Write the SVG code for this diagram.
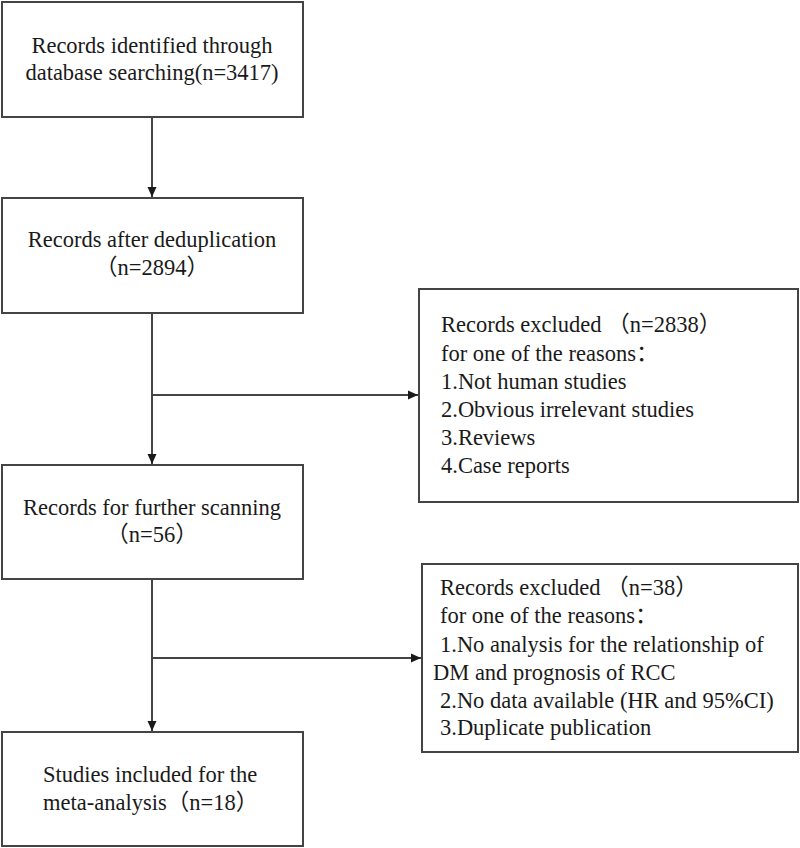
<svg xmlns="http://www.w3.org/2000/svg" width="800" height="848" viewBox="0 0 800 848">
<style>
.box{fill:#fff;stroke:#444;stroke-width:2}
.t{font-family:"Liberation Serif","Noto Sans CJK SC",serif;font-size:22.5px;fill:#1a1a1a}
.c{text-anchor:middle}
.ln{stroke:#444;stroke-width:2;fill:none}
</style>
<defs>
<marker id="ah" viewBox="0 0 10 10" refX="10" refY="5" markerWidth="10" markerHeight="10" markerUnits="userSpaceOnUse" orient="auto">
<path d="M0,0.5 L10,5 L0,9.5 Z" fill="#1a1a1a"/>
</marker>
</defs>
<rect width="800" height="848" fill="#fff"/>
<g id="connectors">
<line class="ln" x1="152" y1="117" x2="152" y2="197" marker-end="url(#ah)"/>
<line class="ln" x1="152" y1="313" x2="152" y2="464" marker-end="url(#ah)"/>
<line class="ln" x1="152" y1="395" x2="418" y2="395" marker-end="url(#ah)"/>
<line class="ln" x1="152" y1="579" x2="152" y2="731" marker-end="url(#ah)"/>
<line class="ln" x1="152" y1="658" x2="421" y2="658" marker-end="url(#ah)"/>
</g>
<g id="n1">
<rect class="box" x="2" y="2" width="301" height="115"/>
<text class="t c" x="152" y="53">Records identified through</text>
<text class="t c" x="152" y="80">database searching(n=3417)</text>
</g>
<g id="n2">
<rect class="box" x="2" y="198" width="301" height="115"/>
<text class="t c" x="152" y="247">Records after deduplication</text>
<text class="t c" x="152" y="275">（n=2894）</text>
</g>
<g id="n3">
<rect class="box" x="419" y="289" width="379" height="213"/>
<text class="t" x="441" y="332">Records excluded （n=2838）</text>
<text class="t" x="441" y="361">for one of the reasons：</text>
<text class="t" x="441" y="389">1.Not human studies</text>
<text class="t" x="441" y="417">2.Obvious irrelevant studies</text>
<text class="t" x="441" y="445">3.Reviews</text>
<text class="t" x="441" y="473">4.Case reports</text>
</g>
<g id="n4">
<rect class="box" x="2" y="465" width="301" height="114"/>
<text class="t c" x="152" y="515">Records for further scanning</text>
<text class="t c" x="152" y="542">（n=56）</text>
</g>
<g id="n5">
<rect class="box" x="422" y="564" width="376" height="188"/>
<text class="t" x="440" y="595">Records excluded （n=38）</text>
<text class="t" x="440" y="623">for one of the reasons：</text>
<text class="t" x="440" y="652">1.No analysis for the relationship of</text>
<text class="t" x="433" y="680">DM and prognosis of RCC</text>
<text class="t" x="440" y="708">2.No data available (HR and 95%CI)</text>
<text class="t" x="440" y="735">3.Duplicate publication</text>
</g>
<g id="n6">
<rect class="box" x="2" y="732" width="301" height="114"/>
<text class="t" x="43" y="782">Studies included for the</text>
<text class="t" x="43" y="810">meta-analysis（n=18）</text>
</g>
</svg>
